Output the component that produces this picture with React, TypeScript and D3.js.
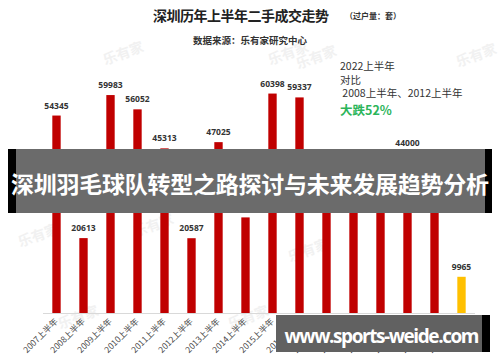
import * as d3 from 'd3';
import React, { useEffect, useRef } from 'react';

const years = ['2007', '2008', '2009', '2010', '2011', '2012', '2013', '2014', '2015', '2016', '2017', '2018', '2019', '2020', '2021', '2022'];
const volumes = [54345, 20613, 59983, 56052, 45313, 20587, 47025, 26313, 60398, 59337, 29001, 33300, 31400, 44000, 28443, 9965];
const noteLines = ['2022上半年', '对比', ' 2008上半年、2012上半年'];
const noteHighlight = '大跌52%';

const CJK = '"Noto Sans CJK SC", "Noto Sans", sans-serif';
const NUM = '"Open Sans", "Liberation Sans", sans-serif';

export default function App(): React.JSX.Element {
	const chartRef = useRef<SVGSVGElement | null>(null);

	useEffect(() => {
		if (chartRef.current === null) return;
		const root = d3.select(chartRef.current);
		root.selectAll('*').remove();

		const width = 500;
		const height = 362;
		const margin = { left: 43, right: 25, bottom: 49 };
		const baseline = height - margin.bottom;

		const svg = root.attr('width', width).attr('height', height);
		svg.append('rect').attr('width', width).attr('height', height).attr('fill', '#fff');

		// faint watermarks
		const marks: [number, number][] = [[125, 58], [290, 58], [318, 62], [40, 240], [140, 172], [200, 172], [440, 175], [155, 230], [310, 255], [478, 60], [80, 322], [250, 322]];
		svg.selectAll('text.wm')
			.data(marks)
			.enter()
			.append('text')
			.attr('class', 'wm')
			.attr('transform', (m) => `translate(${m[0]},${m[1]}) rotate(-20)`)
			.attr('text-anchor', 'middle')
			.attr('font-family', CJK)
			.attr('font-size', 14)
			.attr('font-weight', 700)
			.attr('fill', '#f1f1f1')
			.text('乐有家');

		const xScale = d3.scaleBand()
			.domain(years)
			.range([margin.left, width - margin.right])
			.paddingInner(0.69)
			.paddingOuter(0.345);

		const yScale = d3.scaleLinear()
			.domain([0, 60000])
			.range([baseline, baseline - 218]);

		svg.append('line')
			.attr('x1', margin.left)
			.attr('x2', width - margin.right)
			.attr('y1', baseline + 0.5)
			.attr('y2', baseline + 0.5)
			.attr('stroke', '#d9d9d9');

		svg.selectAll('rect.bar')
			.data(volumes)
			.enter()
			.append('rect')
			.attr('class', 'bar')
			.attr('x', (_, i) => xScale(years[i]) ?? 0)
			.attr('y', (v) => yScale(v))
			.attr('width', xScale.bandwidth())
			.attr('height', (v) => baseline - yScale(v))
			.attr('fill', (_, i) => (i === years.length - 1 ? '#ffc000' : '#c00000'));

		svg.selectAll('text.val')
			.data(volumes)
			.enter()
			.append('text')
			.attr('class', 'val')
			.attr('x', (_, i) => (xScale(years[i]) ?? 0) + xScale.bandwidth() / 2)
			.attr('y', (v) => yScale(v) - 7)
			.attr('text-anchor', 'middle')
			.attr('font-family', NUM)
			.attr('font-size', 8.5)
			.attr('font-weight', 700)
			.attr('fill', '#333')
			.text((v) => v);

		svg.selectAll('text.tick')
			.data(years)
			.enter()
			.append('text')
			.attr('class', 'tick')
			.attr('transform', (y) => `translate(${(xScale(y) ?? 0) + xScale.bandwidth() / 2 + 2},${baseline + 9}) rotate(-45)`)
			.attr('text-anchor', 'end')
			.attr('font-family', CJK)
			.attr('font-size', 8.5)
			.attr('fill', '#4a4a4a')
			.text((y) => `${y}上半年`);

		// titles
		svg.append('text')
			.attr('x', 153).attr('y', 21)
			.attr('font-family', CJK).attr('font-size', 14).attr('font-weight', 700)
			.attr('fill', '#222')
			.attr('textLength', 176)
			.text('深圳历年上半年二手成交走势');
		svg.append('text')
			.attr('x', 345).attr('y', 19)
			.attr('font-family', CJK).attr('font-size', 8).attr('font-weight', 700)
			.attr('fill', '#333')
			.text('（过户量：套）');
		svg.append('text')
			.attr('x', 250).attr('y', 44)
			.attr('text-anchor', 'middle')
			.attr('font-family', CJK).attr('font-size', 9.5).attr('font-weight', 700)
			.attr('fill', '#333')
			.text('数据来源：乐有家研究中心');

		// annotation
		svg.selectAll('text.note')
			.data(noteLines)
			.enter()
			.append('text')
			.attr('class', 'note')
			.attr('x', 340)
			.attr('y', (_, i) => 70 + i * 13.5)
			.attr('font-family', CJK)
			.attr('font-size', 10.5)
			.attr('fill', '#333')
			.attr('xml:space', 'preserve')
			.style('white-space', 'pre')
			.text((t) => t);
		svg.append('text')
			.attr('x', 340).attr('y', 115)
			.attr('font-family', CJK).attr('font-size', 12.5).attr('font-weight', 700)
			.attr('fill', '#2cb55a')
			.text(noteHighlight);

		// overlay banner
		svg.append('rect').attr('x', 8).attr('y', 149).attr('width', 484).attr('height', 64).attr('fill', '#000');
		svg.append('rect').attr('x', 16).attr('y', 149).attr('width', 469).attr('height', 64).attr('fill', '#fff');
		svg.append('rect').attr('x', 16).attr('y', 149).attr('width', 469).attr('height', 64).attr('fill', 'rgba(0,0,0,0.58)');
		svg.append('text')
			.attr('x', 250).attr('y', 193)
			.attr('text-anchor', 'middle')
			.attr('font-family', CJK).attr('font-size', 23).attr('font-weight', 700)
			.attr('fill', '#fff')
			.attr('textLength', 478)
			.text('深圳羽毛球队转型之路探讨与未来发展趋势分析');

		// bottom banner
		svg.append('rect').attr('x', 276).attr('y', 315).attr('width', 214).attr('height', 37).attr('fill', '#000');
		svg.append('rect').attr('x', 276).attr('y', 315).attr('width', 206).attr('height', 37).attr('fill', '#fff');
		svg.append('rect').attr('x', 276).attr('y', 315).attr('width', 206).attr('height', 37).attr('fill', 'rgba(0,0,0,0.62)');
		svg.append('text')
			.attr('x', 382).attr('y', 343)
			.attr('text-anchor', 'middle')
			.attr('font-family', NUM).attr('font-size', 19).attr('font-weight', 700)
			.attr('fill', '#fff')
			.attr('textLength', 195)
			.text('www.sports-weide.com');
	}, []);

	return <svg ref={chartRef} style={{ position: 'absolute', left: 0, top: 0, display: 'block' }} />;
}
